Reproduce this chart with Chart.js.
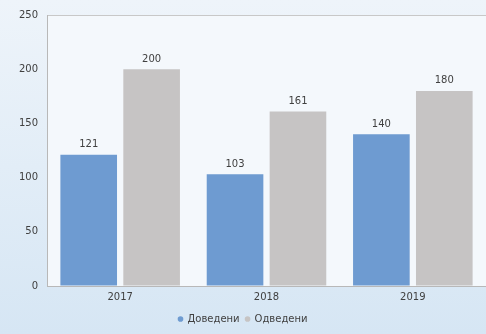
<!DOCTYPE html>
<html>
<head>
<meta charset="utf-8">
<script src="https://cdn.jsdelivr.net/npm/chart.js@4.4.0/dist/chart.umd.min.js"></script>
<style>
  html, body { margin: 0; padding: 0; background: #e4eef8; }
  #wrap { width: 486px; height: 334px; }
</style>
</head>
<body>
<div id="wrap"><canvas id="chart" width="486" height="334"></canvas></div>
<script>
const years = ['2017', '2018', '2019'];
const brought = [121, 103, 140];
const taken = [200, 161, 180];
const seriesNames = ['Доведени', 'Одведени'];
const yTicks = [0, 50, 100, 150, 200, 250];

// background gradient + lighter plot area
const backdrop = {
    id: 'backdrop',
    beforeDraw(chart) {
        const ctx = chart.ctx;
        const g = ctx.createLinearGradient(0, 0, 0, chart.height);
        g.addColorStop(0, '#eef4fa');
        g.addColorStop(1, '#d6e6f4');
        ctx.save();
        ctx.fillStyle = g;
        ctx.fillRect(0, 0, chart.width, chart.height);
        const a = chart.chartArea;
        ctx.fillStyle = '#f4f8fc';
        ctx.fillRect(a.left, a.top, a.right - a.left, a.bottom - a.top);
        ctx.restore();
    }
};

// value labels on top of bars
const barLabels = {
    id: 'barLabels',
    afterDatasetsDraw(chart) {
        const ctx = chart.ctx;
        ctx.save();
        ctx.font = '10px "DejaVu Sans"';
        ctx.fillStyle = '#404040';
        ctx.textAlign = 'center';
        ctx.textBaseline = 'bottom';
        chart.data.datasets.forEach((ds, i) => {
            chart.getDatasetMeta(i).data.forEach((bar, j) => {
                ctx.fillText(ds.data[j], bar.x, bar.y - 5);
            });
        });
        ctx.restore();
    }
};

new Chart(document.getElementById('chart').getContext('2d'), {
    type: 'bar',
    data: {
        labels: years,
        datasets: [
            { label: seriesNames[0], data: brought, backgroundColor: '#6e9bd1' },
            { label: seriesNames[1], data: taken, backgroundColor: '#c6c4c4' }
        ]
    },
    options: {
        responsive: false,
        animation: false,
        layout: { padding: { top: 10, right: 0, left: 0, bottom: 0 } },
        datasets: { bar: { categoryPercentage: 0.86, barPercentage: 0.9 } },
        plugins: {
            legend: {
                position: 'bottom',
                labels: {
                    usePointStyle: true,
                    pointStyle: 'circle',
                    boxWidth: 4,
                    boxHeight: 4,
                    padding: 6,
                    color: '#404040',
                    font: { size: 10, family: 'DejaVu Sans' }
                }
            },
            tooltip: { enabled: false }
        },
        scales: {
            x: {
                grid: { display: false, drawTicks: false },
                border: { color: '#b8b8b8' },
                ticks: { color: '#404040', padding: 5, font: { size: 10, family: 'DejaVu Sans' } }
            },
            y: {
                min: 0,
                max: 250,
                afterFit(s) { s.width = 47; },
                afterBuildTicks(s) { s.ticks = yTicks.map(v => ({ value: v })); },
                grid: {
                    drawTicks: false,
                    color: ctx => ctx.tick.value === 250 ? '#c8c8c8' : 'rgba(0,0,0,0)'
                },
                border: { color: '#b8b8b8' },
                ticks: { color: '#404040', padding: 9, font: { size: 10, family: 'DejaVu Sans' } }
            }
        }
    },
    plugins: [backdrop, barLabels]
});
</script>
</body>
</html>
